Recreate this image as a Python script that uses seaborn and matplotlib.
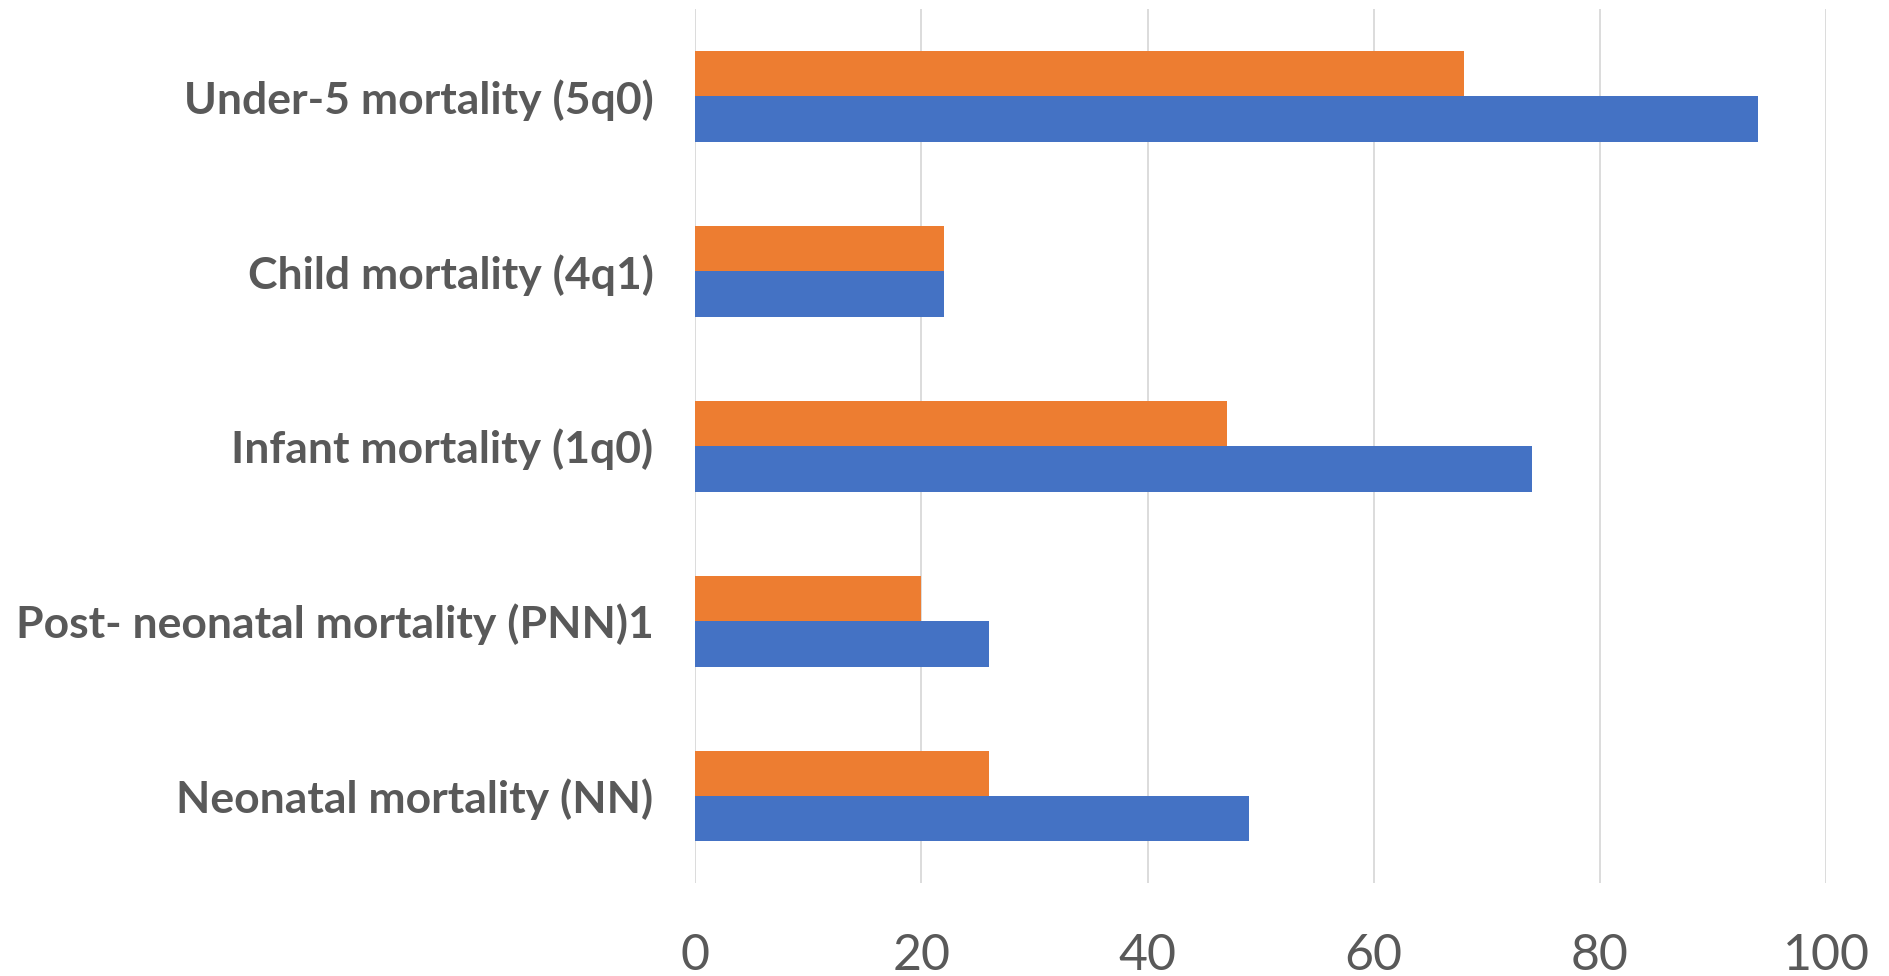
import matplotlib
matplotlib.use("Agg")
import matplotlib.pyplot as plt
import seaborn as sns
import pandas as pd

categories = ["Under-5 mortality (5q0)", "Child mortality (4q1)", "Infant mortality (1q0)",
              "Post- neonatal mortality (PNN)1", "Neonatal mortality (NN)"]
series_orange = [68, 22, 47, 20, 26]
series_blue = [94, 22, 74, 26, 49]
x_ticks = [0, 20, 40, 60, 80, 100]

rows = []
for c, o, b in zip(categories, series_orange, series_blue):
    rows.append({"cat": c, "series": "B", "value": o})
    rows.append({"cat": c, "series": "A", "value": b})
df = pd.DataFrame(rows)

sns.set_theme(style="white")
plt.rcParams['font.family'] = ['Lato', 'DejaVu Sans']

fig = plt.figure(figsize=(18.89, 9.76), dpi=100)
ax = fig.add_axes([0.368, 0.0948, 0.9667 - 0.368, 0.991 - 0.0948])

sns.barplot(data=df, y="cat", x="value", hue="series", hue_order=["B", "A"],
            order=categories, palette={"B": "#ED7D31", "A": "#4472C4"},
            orient="h", width=0.52, ax=ax, legend=False, saturation=1,
            edgecolor="none")

ax.set_xlim(0, 100)
ax.set_xticks(x_ticks)
ax.set_xticklabels([str(t) for t in x_ticks])
ax.set_xlabel("")
ax.set_ylabel("")
ax.grid(axis="x", color="#D9D9D9", linewidth=1.3)
ax.set_axisbelow(True)
for s in ax.spines.values():
    s.set_visible(False)
ax.tick_params(axis="x", length=0, pad=36, labelsize=36, labelcolor="#595959")
ax.tick_params(axis="y", length=0, pad=30, labelsize=32, labelcolor="#595959")
for lab in ax.get_yticklabels():
    lab.set_fontweight("bold")

fig.savefig("out.png", dpi=100)
